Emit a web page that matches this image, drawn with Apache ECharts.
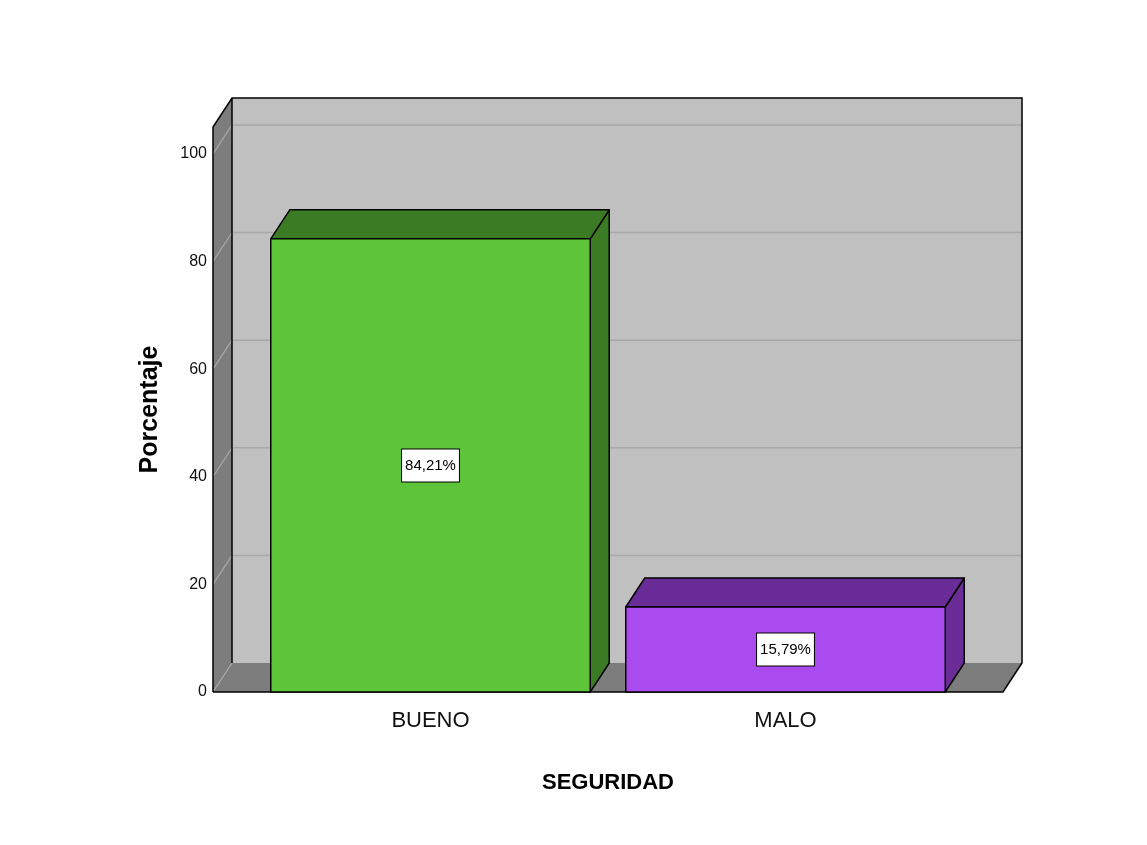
<!DOCTYPE html>
<html lang="es">
<head>
    <meta charset="UTF-8">
    <title>SEGURIDAD</title>
    <script src="https://cdn.jsdelivr.net/npm/echarts/dist/echarts.min.js"></script>
    <style>
        html, body { margin: 0; background: #fff; }
        #chart1 { width: 1147px; height: 845px; }
    </style>
</head>
<body>
<div id="chart1"></div>
<script type="text/javascript">
    var categories = ['BUENO', 'MALO'];
    var percentages = [84.21, 15.79];
    var yTicks = [0, 20, 40, 60, 80, 100];
    var faceColors = ['#5ec43a', '#aa4bf0'];
    var shadeColors = ['#3b7b24', '#6a2c96'];

    // depth of the fake 3D box, and how far the walls go past the category band
    var DX = 19, DY = -29, PAD = 40;
    var font = '"Liberation Sans", Arial, sans-serif';

    function fmt(v) {
        return v.toFixed(2).replace('.', ',') + '%';
    }

    var chart1 = echarts.init(document.getElementById('chart1'));

    function renderWalls(params, api) {
        var cs = params.coordSys;
        var x0 = cs.x - PAD, x1 = cs.x + cs.width + PAD;
        var yt = cs.y, yb = cs.y + cs.height;
        var children = [];
        children.push({
            type: 'rect',
            shape: {x: x0 + DX, y: yt + DY, width: x1 - x0, height: yb - yt},
            style: {fill: '#c0c0c0'}
        });
        children.push({
            type: 'polygon',
            shape: {points: [[x0, yb], [x0, yt], [x0 + DX, yt + DY], [x0 + DX, yb + DY]]},
            style: {fill: '#7d7d7d'}
        });
        children.push({
            type: 'polygon',
            shape: {points: [[x0, yb], [x1, yb], [x1 + DX, yb + DY], [x0 + DX, yb + DY]]},
            style: {fill: '#7d7d7d'}
        });
        for (var i = 0; i < yTicks.length; i++) {
            var y = api.coord([0, yTicks[i]])[1];
            children.push({
                type: 'line',
                shape: {x1: x0, y1: y, x2: x0 + DX, y2: y + DY},
                style: {stroke: '#a8a8a8', lineWidth: 1.2}
            });
            if (yTicks[i] > 0) {
                children.push({
                    type: 'line',
                    shape: {x1: x0 + DX, y1: y + DY, x2: x1 + DX, y2: y + DY},
                    style: {stroke: '#a8a8a8', lineWidth: 1.5}
                });
            }
        }
        children.push({
            type: 'polyline',
            shape: {points: [[x0, yb], [x0, yt], [x0 + DX, yt + DY], [x1 + DX, yt + DY],
                [x1 + DX, yb + DY], [x1, yb], [x0, yb]]},
            style: {stroke: '#000', lineWidth: 1.5, fill: null}
        });
        children.push({
            type: 'line',
            shape: {x1: x0 + DX, y1: yt + DY, x2: x0 + DX, y2: yb + DY},
            style: {stroke: '#000', lineWidth: 1.5}
        });
        return {type: 'group', children: children};
    }

    function renderBar(params, api) {
        var i = params.dataIndex;
        var v = api.value(1);
        var top = api.coord([api.value(0), v]);
        var base = api.coord([api.value(0), 0]);
        var w = api.size([1, 0])[0] * 0.9;
        var l = top[0] - w / 2, r = top[0] + w / 2;
        var ty = top[1], by = base[1];
        var line = {stroke: '#000', lineWidth: 1.5, lineJoin: 'round'};
        return {
            type: 'group',
            children: [
                {
                    type: 'polygon',
                    shape: {points: [[r, ty], [r, by], [r + DX, by + DY], [r + DX, ty + DY]]},
                    style: Object.assign({fill: shadeColors[i]}, line)
                },
                {
                    type: 'polygon',
                    shape: {points: [[l, ty], [r, ty], [r + DX, ty + DY], [l + DX, ty + DY]]},
                    style: Object.assign({fill: shadeColors[i]}, line)
                },
                {
                    type: 'rect',
                    shape: {x: l, y: ty, width: w, height: by - ty},
                    style: Object.assign({fill: faceColors[i]}, line)
                },
                {
                    type: 'text',
                    x: top[0],
                    y: (ty + by) / 2,
                    style: {
                        text: fmt(v),
                        fill: '#000',
                        font: '15px ' + font,
                        align: 'center',
                        verticalAlign: 'middle',
                        backgroundColor: '#fff',
                        borderColor: '#000',
                        borderWidth: 1,
                        padding: [9, 3, 8, 3]
                    }
                }
            ]
        };
    }

    var option = {
        backgroundColor: '#fff',
        animation: false,
        grid: {left: 253, right: 184, top: 127, bottom: 153},
        xAxis: {
            type: 'category',
            data: categories,
            name: 'SEGURIDAD',
            nameLocation: 'middle',
            nameGap: 80,
            nameTextStyle: {color: '#000', fontFamily: font, fontSize: 22, fontWeight: 'bold'},
            axisLine: {show: false},
            axisTick: {show: false},
            axisLabel: {color: '#111', fontFamily: font, fontSize: 22, margin: 18}
        },
        yAxis: {
            type: 'value',
            min: 0,
            max: 105,
            interval: 20,
            offset: PAD,
            name: 'Porcentaje',
            nameLocation: 'middle',
            nameGap: 50,
            nameTextStyle: {color: '#000', fontFamily: font, fontSize: 25, fontWeight: 'bold'},
            axisLine: {show: false},
            axisTick: {show: false},
            splitLine: {show: false},
            axisLabel: {
                color: '#111', fontFamily: font, fontSize: 16, margin: 6,
                formatter: function (v) { return v > 100 ? '' : v; }
            }
        },
        series: [
            {
                type: 'custom',
                silent: true,
                z: 1,
                data: [[0, 0]],
                renderItem: renderWalls
            },
            {
                type: 'custom',
                z: 2,
                data: percentages.map(function (p, i) { return [i, p]; }),
                renderItem: renderBar
            }
        ]
    };
    chart1.setOption(option);
</script>
</body>
</html>
